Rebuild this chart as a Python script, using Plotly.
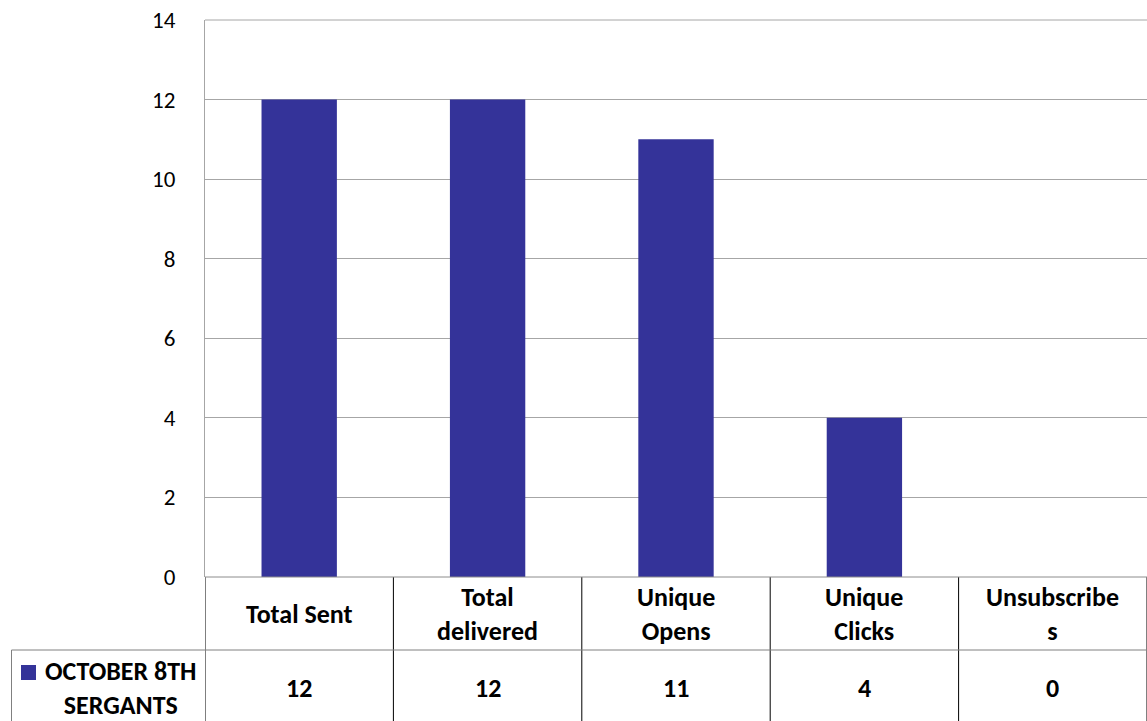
import plotly.graph_objects as go

categories = ["Total Sent", "Total delivered", "Unique Opens", "Unique Clicks", "Unsubscribes"]
category_labels = ["Total Sent", "Total<br>delivered", "Unique<br>Opens", "Unique<br>Clicks", "Unsubscribe<br>s"]
series_name = "OCTOBER 8TH<br>SERGANTS"
values = [12, 12, 11, 4, 0]
y_ticks = [0, 2, 4, 6, 8, 10, 12, 14]

W, H = 1147, 721
PL, PR, PT, PB = 205, 1147, 20, 577          # plot area in page pixels
ML, MR, MT, MB = PL, W - PR, PT, H - PB
PW = PR - PL
PH = PB - PT
BAR_COLOR = "#343399"
FONT = "Calibri, Carlito, Lato, sans-serif"


def py(pix):  # page pixel y -> paper y
    return (PB - pix) / PH


def px(pix):  # page pixel x -> paper x
    return (pix - PL) / PW


fig = go.Figure()
fig.add_trace(go.Bar(x=categories, y=values, marker=dict(color=BAR_COLOR, line=dict(width=0)),
                     name=series_name, showlegend=False, hoverinfo="skip"))

shapes = []
annotations = []
row1_bottom = py(650)
row2_bottom = py(730)
for k in range(len(categories) + 1):
    shapes.append(dict(type="line", xref="x", yref="paper", x0=k - 0.5, x1=k - 0.5,
                       y0=0, y1=row2_bottom, line=dict(color="#000000", width=1)))
shapes.append(dict(type="line", xref="paper", yref="paper", x0=0, x1=1, y0=1, y1=1,
                   line=dict(color="#a6a6a6", width=1)))
shapes.append(dict(type="line", xref="paper", yref="paper", x0=0, x1=1, y0=0, y1=0,
                   line=dict(color="#8c8c8c", width=1)))
shapes.append(dict(type="line", xref="paper", yref="paper", x0=px(11.5), x1=1, y0=row1_bottom, y1=row1_bottom,
                   line=dict(color="#808080", width=1)))
shapes.append(dict(type="line", xref="paper", yref="paper", x0=px(11.5), x1=px(11.5), y0=row1_bottom, y1=row2_bottom,
                   line=dict(color="#808080", width=1)))
shapes.append(dict(type="rect", xref="paper", yref="paper", x0=px(21), x1=px(36), y0=py(680), y1=py(665),
                   fillcolor=BAR_COLOR, line=dict(width=0)))

TS = 26
for i, (lab, v) in enumerate(zip(category_labels, values)):
    annotations.append(dict(x=i, xref="x", y=py(614), yref="paper", text="<b>%s</b>" % lab,
                            showarrow=False, font=dict(family=FONT, size=TS, color="#000000"),
                            xanchor="center", yanchor="middle"))
    annotations.append(dict(x=i, xref="x", y=py(688), yref="paper", text="<b>%s</b>" % v,
                            showarrow=False, font=dict(family=FONT, size=TS, color="#000000"),
                            xanchor="center", yanchor="middle"))
annotations.append(dict(x=px(120), xref="paper", y=py(688), yref="paper", text="<b>%s</b>" % series_name,
                        showarrow=False, font=dict(family=FONT, size=TS, color="#000000"),
                        xanchor="center", yanchor="middle"))

fig.update_layout(
    width=W, height=H,
    margin=dict(l=ML, r=MR, t=MT, b=MB, pad=0),
    paper_bgcolor="white", plot_bgcolor="white",
    bargap=0.6,
    font=dict(family=FONT, size=23, color="#000000"),
    xaxis=dict(range=[-0.5, len(categories) - 0.5], showticklabels=False, showgrid=False,
               zeroline=False, showline=False, ticks=""),
    yaxis=dict(range=[0, 14], tickvals=y_ticks, ticks="", showgrid=True, gridcolor="#a6a6a6",
               gridwidth=1, zeroline=False, showline=True, linecolor="#a6a6a6", linewidth=1,
               ticklabelstandoff=24, tickfont=dict(family=FONT, size=23, color="#000000")),
    shapes=shapes, annotations=annotations,
)

fig.write_html(
    "out.html",
    config={"displayModeBar": False},
    post_script="document.body.style.margin='0';document.body.style.overflow='hidden';",
)
